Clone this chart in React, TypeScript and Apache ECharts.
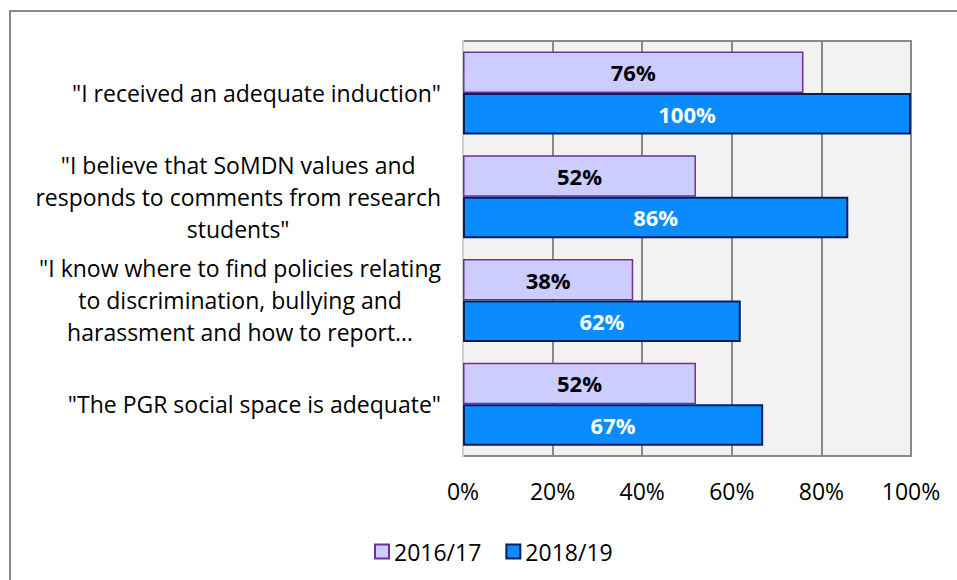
import React, { useEffect, useRef } from "react";
import * as echarts from "echarts";

const categories: string[] = [
  "\"I received an adequate induction\"",
  "\"I believe that SoMDN values and\nresponds to comments from research\nstudents\"",
  "\"I know where to find policies relating\nto discrimination, bullying and\nharassment and how to report…",
  "\"The PGR social space is adequate\"",
];
const seriesNames: string[] = ["2016/17", "2018/19"];
const values2016: number[] = [76, 52, 38, 52];
const values2018: number[] = [100, 86, 62, 67];
const xTicks = { min: 0, max: 100, interval: 20 };

const FONT = "'Open Sans', 'Liberation Sans', sans-serif";

export default function App() {
  const ref = useRef<HTMLDivElement>(null);
  useEffect(() => {
    if (!ref.current) return;
    const chart = echarts.init(ref.current, undefined, { renderer: "svg" });
    chart.setOption({
      animation: false,
      backgroundColor: "#ffffff",
      textStyle: { fontFamily: FONT },
      graphic: [
        {
          type: "rect",
          shape: { x: 10, y: 11, width: 1000, height: 700 },
          style: { fill: "none", stroke: "#8a8a8a", lineWidth: 2 },
          silent: true,
        },
      ],
      grid: {
        left: 463,
        right: 46,
        top: 41,
        bottom: 124,
        show: true,
        backgroundColor: "#f2f2f2",
        borderColor: "#8a8a8a",
        borderWidth: 2,
      },
      legend: {
        data: seriesNames,
        left: 369,
        top: 535,
        icon: "rect",
        itemWidth: 14,
        itemHeight: 14,
        itemGap: 24,
        textStyle: { fontSize: 23, color: "#000", fontFamily: FONT },
      },
      xAxis: {
        type: "value",
        min: xTicks.min,
        max: xTicks.max,
        interval: xTicks.interval,
        axisLine: { show: false },
        axisTick: { show: false },
        axisLabel: {
          formatter: "{value}%",
          fontSize: 23,
          color: "#000",
          margin: 23,
          fontFamily: FONT,
        },
        splitLine: { show: true, lineStyle: { color: "#8a8a8a", width: 2 } },
      },
      yAxis: {
        type: "category",
        inverse: true,
        data: categories,
        axisLine: { show: true, lineStyle: { color: "#d0d0d0", width: 2 } },
        axisTick: { show: false },
        axisLabel: {
          align: "right",
          margin: 22,
          color: "#000",
          fontSize: 23,
          fontFamily: FONT,
          formatter: (v: string) =>
            v
              .split("\n")
              .map((l) => "{c|" + l + "}")
              .join("\n"),
          rich: {
            c: { align: "center", fontSize: 23, lineHeight: 32, color: "#000", fontFamily: FONT },
          },
        },
      },
      series: [
        {
          name: seriesNames[0],
          type: "bar",
          data: values2016,
          barGap: "0%",
          barCategoryGap: "20%",
          itemStyle: { color: "#ccccff", borderColor: "#7030a0", borderWidth: 1.5 },
          label: {
            show: true,
            position: "inside",
            formatter: "{c}%",
            fontWeight: "bold",
            fontSize: 22,
            color: "#000",
            fontFamily: FONT,
          },
        },
        {
          name: seriesNames[1],
          type: "bar",
          data: values2018,
          barGap: "0%",
          barCategoryGap: "20%",
          itemStyle: { color: "#0a8cff", borderColor: "#002060", borderWidth: 2 },
          label: {
            show: true,
            position: "inside",
            formatter: "{c}%",
            fontWeight: "bold",
            fontSize: 22,
            color: "#ffffff",
            fontFamily: FONT,
          },
        },
      ],
    });
    return () => chart.dispose();
  }, []);
  return (
    <div
      ref={ref}
      style={{ position: "fixed", left: 0, top: 0, width: 957, height: 580 }}
    />
  );
}
